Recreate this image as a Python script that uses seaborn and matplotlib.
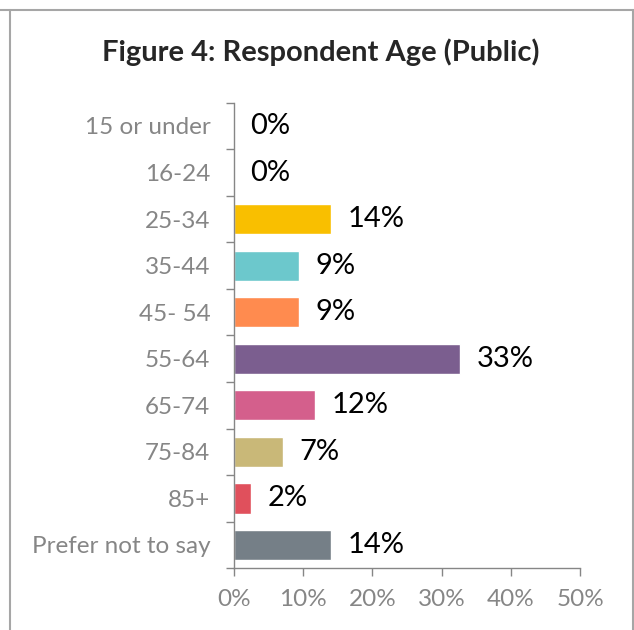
import seaborn as sns
import matplotlib.pyplot as plt
import matplotlib.lines as mlines
import pandas as pd
import numpy as np

ages = ['15 or under', '16-24', '25-34', '35-44', '45- 54', '55-64',
        '65-74', '75-84', '85+', 'Prefer not to say']
shares = [0.0, 0.0, 0.14, 0.094, 0.094, 0.327, 0.117, 0.071, 0.024, 0.14]
colors = ['#4472C4', '#ED7D31', '#F9BF00', '#6CC8CC', '#FF8B4F', '#7B5E8F',
          '#D45F8C', '#C9B878', '#E0505C', '#757F87']
xticks = [0, 0.1, 0.2, 0.3, 0.4, 0.5]

df = pd.DataFrame({'age': ages, 'share': shares})

sns.set_theme(style='white')
plt.rcParams['font.family'] = ['Lato', 'DejaVu Sans']

fig = plt.figure(figsize=(6.34, 6.30), dpi=100)
ax = fig.add_axes([0.369, 0.098, 0.546, 0.739])

sns.barplot(df, y='age', x='share', hue='age', palette=colors, legend=False,
            orient='h', width=0.65, saturation=1, ax=ax)

grey = '#868686'
ax.set_xlim(0, 0.5)
ax.set_ylim(len(ages) - 0.5, -0.5)
ax.set_xticks(xticks)
ax.set_xticklabels([f'{t:.0%}' for t in xticks], fontsize=17.5, color=grey)
ax.set_yticks(range(len(ages)))
ax.set_yticklabels(ages, fontsize=17.5, color=grey)
ax.set_xlabel('')
ax.set_ylabel('')
ax.tick_params(axis='y', length=0, pad=17)
ax.tick_params(axis='x', length=6, width=1, color=grey, direction='out', pad=9)
ax.set_yticks(np.arange(-0.5, len(ages), 1), minor=True)
ax.tick_params(axis='y', which='minor', length=6, width=1, color=grey, left=True)
ax.xaxis.set_ticks_position('bottom')

for side in ['top', 'right']:
    ax.spines[side].set_visible(False)
for side in ['left', 'bottom']:
    ax.spines[side].set_color(grey)
    ax.spines[side].set_linewidth(1)

for c in ax.containers:
    labels = [f'{v.get_width():.0%}' for v in c]
    ax.bar_label(c, labels=labels, padding=12, fontsize=21, color='black')

fig.text(0.506, 0.917, 'Figure 4: Respondent Age (Public)', ha='center', va='center',
         fontsize=21, fontweight='bold')

# frame lines around the chart area
border = '#A6A6A6'
fig.add_artist(mlines.Line2D([0, 1], [0.984, 0.984], color=border, lw=1.5))
fig.add_artist(mlines.Line2D([0.016, 0.016], [0, 0.984], color=border, lw=1.5))
fig.add_artist(mlines.Line2D([0.998, 0.998], [0, 0.984], color=border, lw=1.5))

plt.savefig('out.png', dpi=100)
